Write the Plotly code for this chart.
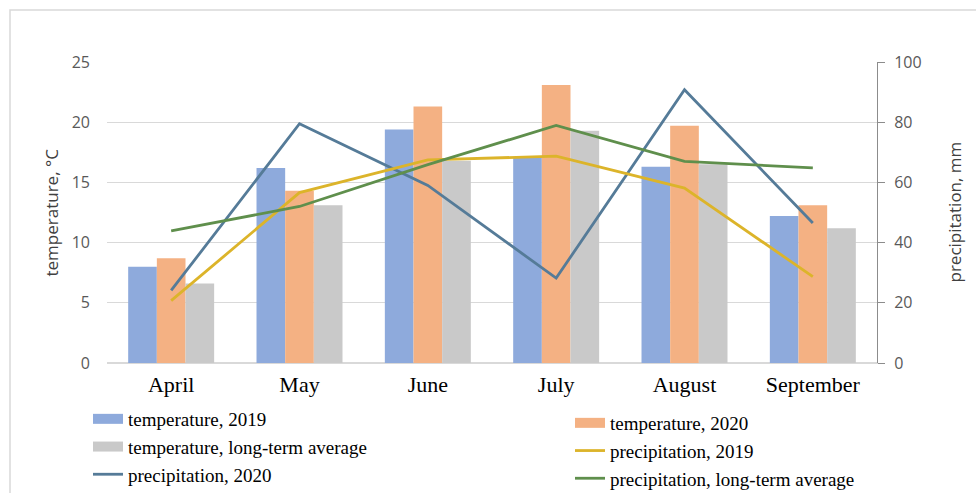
import plotly.graph_objects as go

months = ["April", "May", "June", "July", "August", "September"]
temp_2019 = [8.0, 16.2, 19.4, 17.1, 16.3, 12.2]
temp_2020 = [8.7, 14.3, 21.3, 23.1, 19.7, 13.1]
temp_avg = [6.6, 13.1, 16.8, 19.3, 16.5, 11.2]
prec_2020 = [24.1, 79.5, 59.0, 28.2, 90.8, 46.5]
prec_2019 = [20.7, 56.6, 67.5, 68.7, 58.1, 28.7]
prec_avg = [43.9, 52.0, 65.9, 78.9, 67.0, 64.8]

c_blue = "#8eaadc"
c_orange = "#f4b183"
c_gray = "#c9c9c9"
c_l2020 = "#557b98"
c_l2019 = "#dcb42a"
c_lavg = "#5f8f4c"

serif = "Liberation Serif, Times New Roman, serif"
sans = "Open Sans, sans-serif"

fig = go.Figure()

def bar(name, vals, color, legend):
    fig.add_trace(go.Bar(x=months, y=vals, name=name, marker=dict(color=color, line=dict(width=0)),
                         showlegend=False, yaxis="y"))
    # legend proxy with wide swatch
    fig.add_trace(go.Scatter(x=[None], y=[None], mode="lines", name=name,
                             line=dict(color=color, width=12), legend=legend, yaxis="y"))

bar("temperature, 2019", temp_2019, c_blue, "legend")
bar("temperature, 2020", temp_2020, c_orange, "legend2")
bar("temperature, long-term average", temp_avg, c_gray, "legend")

fig.add_trace(go.Scatter(x=months, y=prec_2020, mode="lines", name="precipitation, 2020",
                         line=dict(color=c_l2020, width=2.8), yaxis="y2", legend="legend"))
fig.add_trace(go.Scatter(x=months, y=prec_2019, mode="lines", name="precipitation, 2019",
                         line=dict(color=c_l2019, width=2.8), yaxis="y2", legend="legend2"))
fig.add_trace(go.Scatter(x=months, y=prec_avg, mode="lines", name="precipitation, long-term average",
                         line=dict(color=c_lavg, width=2.8), yaxis="y2", legend="legend2"))

fig.update_layout(
    width=976, height=493,
    margin=dict(l=107, r=99, t=62, b=130, autoexpand=False),
    paper_bgcolor="white", plot_bgcolor="white",
    barmode="group", bargap=0.33, bargroupgap=0,
    xaxis=dict(
        tickfont=dict(family=serif, size=22, color="black"),
        showline=True, linecolor="#d9d9d9", linewidth=1,
        showgrid=False, ticks="", ticklabelstandoff=2,
    ),
    yaxis=dict(
        range=[0, 25], dtick=5, tickfont=dict(family=sans, size=16, color="#595959"),
        showgrid=True, gridcolor="#d9d9d9", gridwidth=1,
        zeroline=True, zerolinecolor="#d9d9d9", showline=False,
        ticklabelstandoff=16,
    ),
    yaxis2=dict(
        range=[0, 100], dtick=20, overlaying="y", side="right",
        tickfont=dict(family=sans, size=16, color="#595959"),
        showgrid=False, zeroline=False,
        showline=True, linecolor="#8c8c8c", linewidth=1,
        ticks="outside", ticklen=7, tickcolor="#8c8c8c",
        ticklabelstandoff=6,
    ),
    legend=dict(
        xref="container", yref="container", x=88/976, y=1-400/493, xanchor="left", yanchor="top",
        font=dict(family=serif, size=19, color="black"), bgcolor="rgba(0,0,0,0)", tracegroupgap=0,
    ),
    legend2=dict(
        xref="container", yref="container", x=570/976, y=1-404/493, xanchor="left", yanchor="top",
        font=dict(family=serif, size=19, color="black"), bgcolor="rgba(0,0,0,0)", tracegroupgap=0,
    ),
    annotations=[
        dict(text="temperature, °C", xref="paper", yref="paper", x=(51-107)/770, y=0.5,
             textangle=-90, showarrow=False, xanchor="center", yanchor="middle",
             font=dict(family=sans, size=17, color="#404040")),
        dict(text="precipitation, mm", xref="paper", yref="paper", x=(954-107)/770, y=0.5,
             textangle=-90, showarrow=False, xanchor="center", yanchor="middle",
             font=dict(family=sans, size=17, color="#404040")),
    ],
    shapes=[dict(type="rect", xref="paper", yref="paper",
                 x0=(10-107)/770, x1=(990-107)/770, y0=(363-510)/301, y1=(363-10)/301,
                 line=dict(color="#d9d9d9", width=1.5), fillcolor="rgba(0,0,0,0)", layer="below")],
)

fig.write_html("out.html")
